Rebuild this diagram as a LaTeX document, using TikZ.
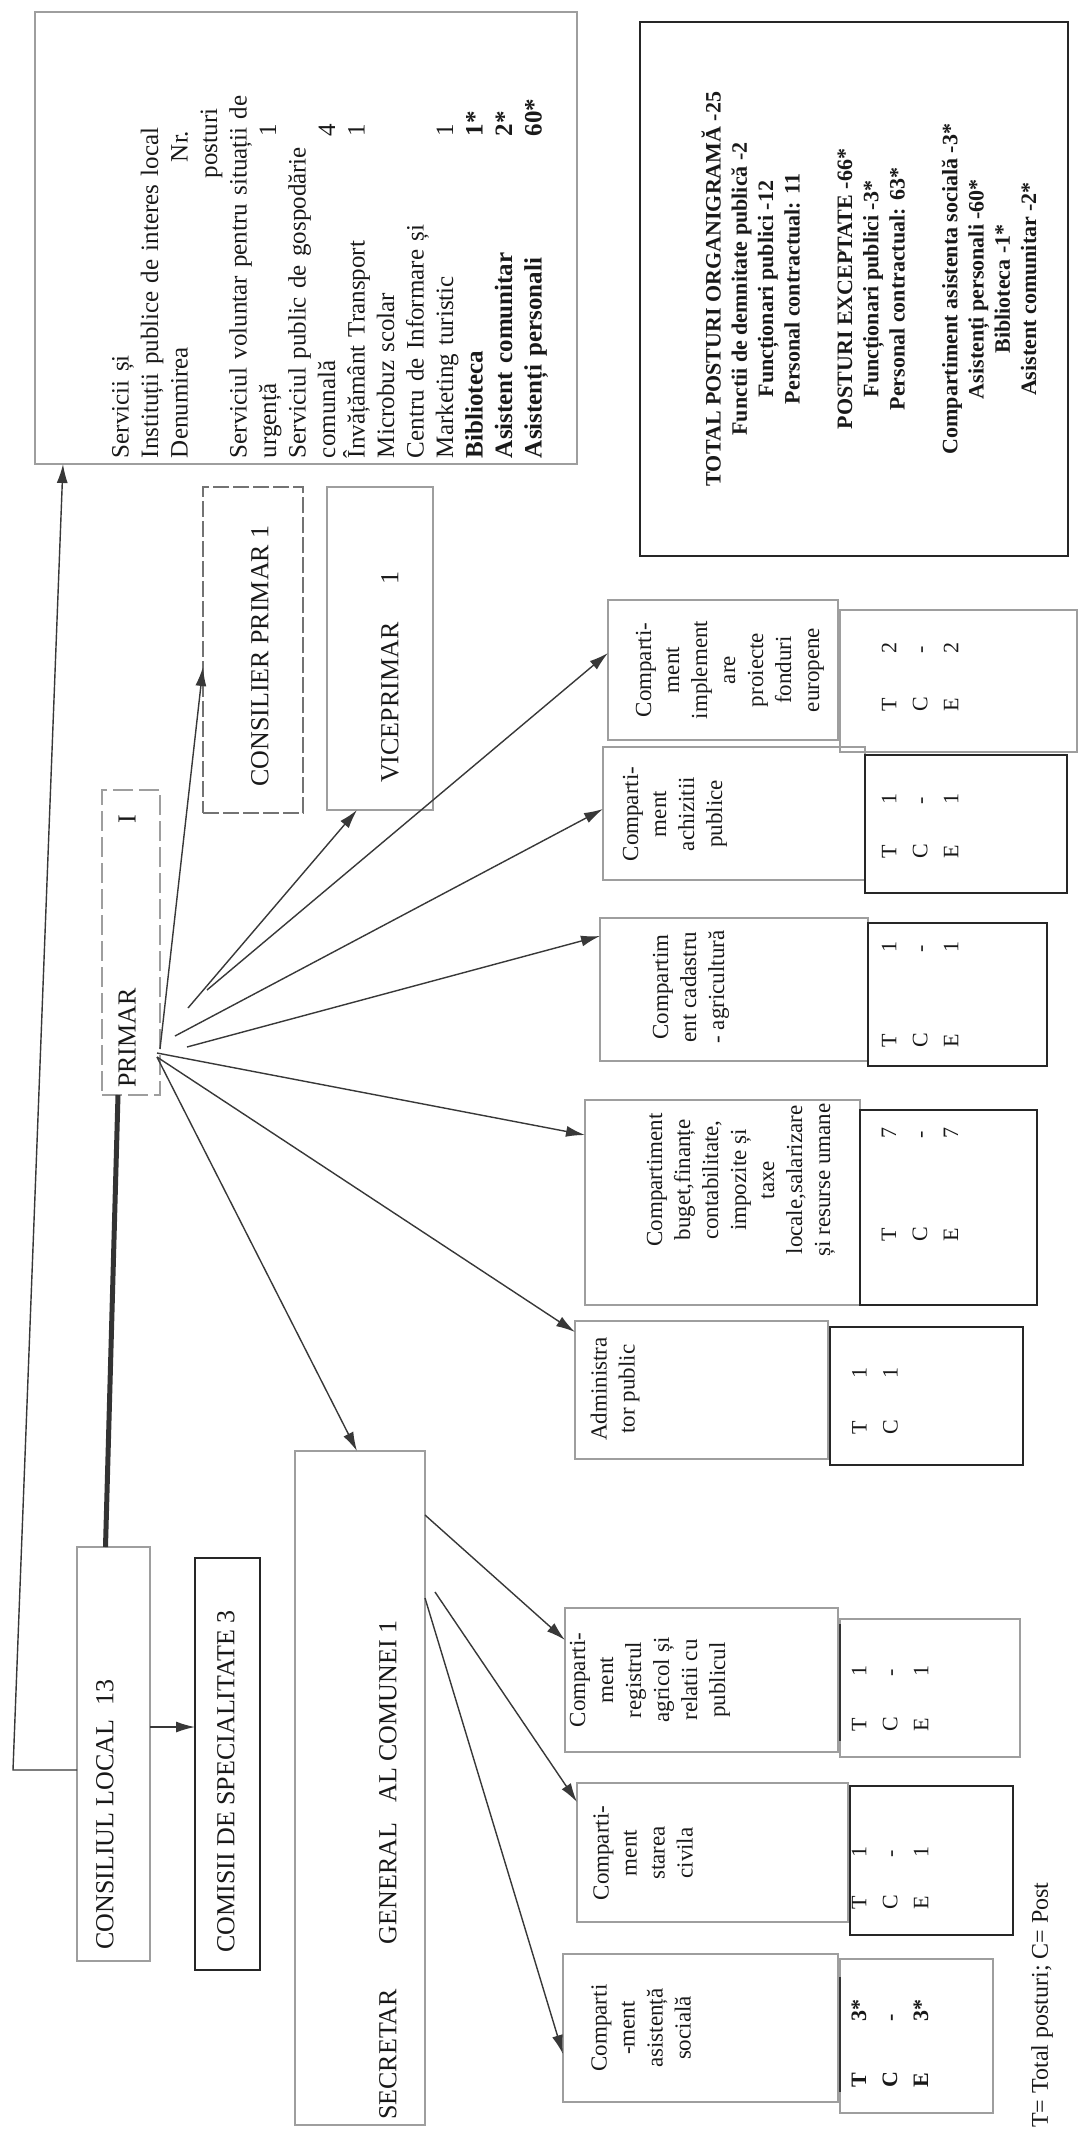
\documentclass[tikz,border=0pt]{standalone}
\usepackage{fontspec}
\setmainfont{Liberation Serif}
\usetikzlibrary{arrows.meta,calc}
\newcommand\bx[6]{\node[#6, anchor=north west, inner sep=0pt, outer sep=0pt, minimum width={(#4-#2)*1pt}, minimum height={(#5-#3)*1pt}] (#1) at (#2,#3) {};}
\newcommand\nr[2]{\makebox[322pt][l]{#1}#2}
\newcommand\tc[3]{\makebox[#1pt][l]{#2}#3}
\begin{document}
\begin{tikzpicture}[x=1pt,y=-1pt,
  faint/.style={draw=black!38, line width=1.2pt},
  solidbox/.style={draw=black!85, line width=2pt},
  lbl/.style={rotate=90, inner sep=0pt, text=black!90, font=\fontsize{26}{30}\selectfont},
  comp/.style={rotate=90, inner sep=0pt, align=center, text=black!90, font=\fontsize{23}{28}\selectfont},
  tce/.style={rotate=90, inner sep=0pt, align=left, anchor=west, text=black!90, font=\fontsize{22}{31}\selectfont},
  arr/.style={draw=black!78, line width=1.4pt, -{Latex[length=19pt,width=11pt]}},
  thick line/.style={draw=black!80, line width=5pt}]
\useasboundingbox (0,0) rectangle (1088,2133);
\fill[white] (0,0) rectangle (1088,2133);

% boxes
\bx{svcbox}{35}{12}{577}{464}{faint}
\bx{totbox}{640}{22}{1068}{556}{solidbox, line width=2.5pt}
\bx{consbox}{203}{487}{303}{813}{faint, draw=black!55, dashed, dash pattern=on 16pt off 4pt}
\bx{vicebox}{327}{487}{433}{810}{faint}
\bx{primarbox}{102}{790}{160}{1095}{faint, dashed, dash pattern=on 20pt off 6pt}
\bx{clbox}{77}{1547}{150}{1961}{faint}
\bx{combox}{195}{1558}{260}{1970}{solidbox}
\bx{secbox}{295}{1451}{425}{2125}{faint}
\bx{implbox}{608}{600}{838}{740}{faint}
\bx{impltce}{840}{610}{1077}{752}{faint}
\bx{achbox}{603}{747}{865}{880}{faint}
\bx{achtce}{865}{755}{1067}{893}{solidbox}
\bx{cadbox}{600}{918}{868}{1061}{faint}
\bx{cadtce}{868}{923}{1047}{1066}{solidbox}
\bx{bugbox}{585}{1100}{860}{1305}{faint}
\bx{bugtce}{860}{1110}{1037}{1305}{solidbox}
\bx{admbox}{575}{1321}{828}{1459}{faint}
\bx{admtce}{830}{1327}{1023}{1465}{solidbox}
\bx{regbox}{565}{1608}{838}{1752}{faint}
\bx{regtce}{840}{1619}{1020}{1757}{faint}
\bx{stbox}{577}{1783}{848}{1922}{faint}
\bx{sttce}{850}{1786}{1013}{1935}{solidbox}
\bx{asbox}{563}{1954}{838}{2102}{faint}
\bx{astce}{840}{1959}{993}{2113}{faint}
\draw[draw=black!80, line width=2pt] ([yshift=-5pt]regtce.north west) -- ([yshift=16pt]regtce.south west);
\draw[draw=black!80, line width=2pt] ([yshift=-18pt]astce.north west) -- ([yshift=21pt]astce.south west);

% services text
\node[rotate=90, inner sep=0pt, text width=440pt, align=left, text=black!90, font=\fontsize{25}{29.5}\selectfont] (svctext) at (330,238) {%
Servicii și\\
Instituții publice de interes local\\
\makebox[296pt][l]{Denumirea}Nr.\\
\hspace*{280pt}posturi\\
\makebox[440pt][s]{Serviciul voluntar pentru situații de}\\
\nr{urgență}{1}\\
\makebox[430pt][s]{Serviciul public de gospodărie}\\
\nr{comunală}{4}\\
\nr{Învățământ Transport}{1}\\
Microbuz scolar\\
Centru de Informare și\\
\nr{Marketing turistic}{1}\\
\textbf{\nr{Biblioteca}{1*}}\\
\textbf{\nr{Asistent comunitar}{2*}}\\
\textbf{\nr{Asistenți personali}{60*}}};

% totals text
\node[rotate=90, inner sep=0pt, align=center, text=black!90, font=\bfseries\fontsize{22}{26.3}\selectfont] (tottext) at (869,289) {%
TOTAL POSTURI ORGANIGRAMĂ -25\\
Functii de demnitate publică -2\\
Funcționari publici -12\\
Personal contractual: 11\\[26.3pt]
POSTURI EXCEPTATE -66*\\
Funcționari publici -3*\\
Personal contractual: 63*\\[26.3pt]
Compartiment asistenta socială -3*\\
Asistenți personali -60*\\
Biblioteca -1*\\
Asistent comunitar -2*};

% labels
\node[lbl, anchor=west] (tcons) at (260,787) {CONSILIER PRIMAR 1};
\node[lbl, anchor=west] (tvice) at (390,783) {VICEPRIMAR\hspace{38pt}1};
\node[lbl, anchor=west] (tprimar) at (127,1088) {PRIMAR\hspace{165pt}I};
\node[lbl, anchor=west] (tcl) at (105,1950) {CONSILIUL LOCAL\hspace{14pt}13};
\node[lbl, anchor=west] (tcom) at (226,1953) {COMISII DE SPECIALITATE 3};
\node[lbl, anchor=west] (tsec) at (388,2120) {SECRETAR\hspace{45pt}GENERAL\hspace{20pt}AL COMUNEI 1};
\node[lbl, anchor=west, font=\fontsize{24}{28}\selectfont] (legend) at (1042,2128) {T= Total posturi; C= Post};

% compartment texts
\node[comp] (implt) at (730,670) {Comparti-\\ment\\implement\\are\\proiecte\\fonduri\\europene};
\node[comp] (acht) at (675,814) {Comparti-\\ment\\achizitii\\publice};
\node[comp] (cadt) at (691,987) {Compartim\\ent cadastru\\- agricultură};
\node[comp] (bugt) at (741,1180) {Compartiment\\buget,finanțe\\contabilitate,\\impozite și\\taxe\\locale,salarizare\\și resurse umane};
\node[comp] (admt) at (615,1389) {Administra\\tor public};
\node[comp] (regt) at (650,1680) {Comparti-\\ment\\registrul\\agricol și\\relatii cu\\publicul};
\node[comp] (stt) at (643,1853) {Comparti-\\ment\\starea\\civila};
\node[comp] (ast) at (641,2028) {Comparti\\-ment\\asistență\\socială};

% T C E
\node[tce] (implv) at (920,712) {\tc{58}{T}{2}\\\tc{58}{C}{-}\\\tc{58}{E}{2}};
\node[tce] (achv) at (920,859) {\tc{54}{T}{1}\\\tc{54}{C}{-}\\\tc{54}{E}{1}};
\node[tce] (cadv) at (920,1048) {\tc{95}{T}{1}\\\tc{95}{C}{-}\\\tc{95}{E}{1}};
\node[tce] (bugv) at (920,1242) {\tc{103}{T}{7}\\\tc{103}{C}{-}\\\tc{103}{E}{7}};
\node[tce] (admv) at (875,1435) {\tc{56}{T}{1}\\\tc{56}{C}{1}};
\node[tce] (regv) at (890,1732) {\tc{55}{T}{1}\\\tc{55}{C}{-}\\\tc{55}{E}{1}};
\node[tce] (stv) at (890,1910) {\tc{52}{T}{1}\\\tc{52}{C}{-}\\\tc{52}{E}{1}};
\node[tce, font=\bfseries\fontsize{22}{31}\selectfont] (asv) at (890,2088) {\tc{66}{T}{3*}\\\tc{66}{C}{-}\\\tc{66}{E}{3*}};

% connectors
\coordinate (llc) at (13,1770);
\draw[arr] (clbox.west |- 0,1770) -- (llc) -- (svcbox.south -| 63,0);
\draw[thick line] ([xshift=-13pt]primarbox.south) -- ([xshift=-8pt]clbox.north);
\draw[arr] (clbox.east |- 0,1727) -- (combox.west |- 0,1727);

\coordinate (ps2) at (188,1008);
\coordinate (ps3) at (207,990);
\coordinate (ps4) at (175,1036);
\coordinate (ps5) at (187,1047);
\coordinate (ps6) at (157,1053);
\coordinate (ps7) at (157,1057);
\draw[arr] (primarbox.east |- 0,1049) -- (consbox.west |- 0,667);
\draw[arr] (ps2) -- (vicebox.south -| 357,0);
\draw[arr] (ps3) -- (implbox.west |- 0,653);
\draw[arr] (ps4) -- (achbox.west |- 0,809);
\draw[arr] (ps5) -- (cadbox.west |- 0,936);
\draw[arr] (ps6) -- (bugbox.west |- 0,1135);
\draw[arr] (ps7) -- (admbox.west |- 0,1332);
\draw[arr] (ps7) -- (secbox.north -| 357,0);

\draw[arr] (secbox.east |- 0,1515) -- (regbox.west |- 0,1640);
\draw[arr] ([xshift=10pt]secbox.east |- 0,1592) -- (stbox.west |- 0,1802);
\draw[arr] (secbox.east |- 0,1598) -- (asbox.west |- 0,2054);
\end{tikzpicture}
\end{document}
